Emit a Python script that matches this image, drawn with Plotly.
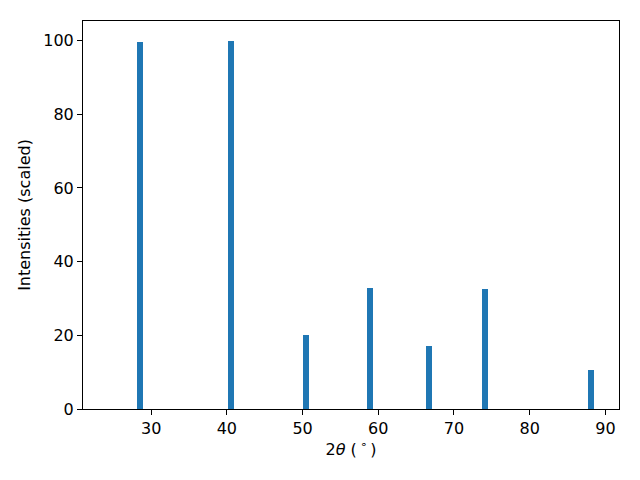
import plotly.graph_objects as go

two_theta = [28.5, 40.6, 50.45, 58.9, 66.7, 74.1, 88.1]
intensity = [99.6, 100.0, 20.1, 32.9, 17.1, 32.6, 10.6]
bar_width = 0.8
x_ticks = [30, 40, 50, 60, 70, 80, 90]
y_ticks = [0, 20, 40, 60, 80, 100]

fig = go.Figure(go.Bar(x=two_theta, y=intensity, width=[bar_width]*len(two_theta),
                       marker=dict(color="#1f77b4", line=dict(width=0))))

font = dict(family="DejaVu Sans", size=16, color="black")
fig.update_layout(
    width=640, height=480,
    margin=dict(l=75, r=29, t=13, b=79, autoexpand=False),
    plot_bgcolor="white", paper_bgcolor="white",
    font=font, showlegend=False, bargap=0,
)
fig.update_xaxes(range=[21.0, 91.8], tickvals=x_ticks, ticks="outside", ticklen=5, tickwidth=1,
                 tickcolor="black", showline=True, linecolor="black", linewidth=1, mirror=True,
                 showgrid=False, zeroline=False, tickfont=font, automargin=False,
                 title=dict(text="2<i>θ</i> (\u2009<sup>∘</sup>\u2009)", font=font, standoff=4))
fig.update_yaxes(range=[0, 105.3], tickvals=y_ticks, ticks="outside", ticklen=5, tickwidth=1,
                 tickcolor="black", showline=True, linecolor="black", linewidth=1, mirror=True,
                 showgrid=False, zeroline=False, tickfont=font, automargin=False,
                 title=dict(text="Intensities (scaled)", font=font, standoff=8))

fig.write_html("out.html")
